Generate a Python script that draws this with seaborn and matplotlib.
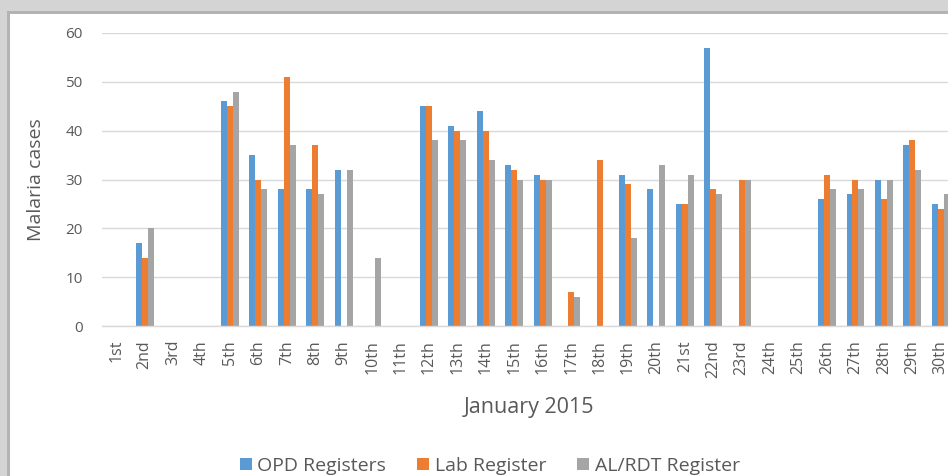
import numpy as np
import pandas as pd
import matplotlib.pyplot as plt
import seaborn as sns
from matplotlib.patches import Patch, Rectangle

nan = np.nan

days = ["1st", "2nd", "3rd", "4th", "5th", "6th", "7th", "8th", "9th", "10th",
        "11th", "12th", "13th", "14th", "15th", "16th", "17th", "18th", "19th", "20th",
        "21st", "22nd", "23rd", "24th", "25th", "26th", "27th", "28th", "29th", "30th"]

opd = [nan, 17, nan, nan, 46, 35, 28, 28, 32, nan,
       nan, 45, 41, 44, 33, 31, nan, nan, 31, 28,
       25, 57, nan, nan, nan, 26, 27, 30, 37, 25]
lab = [nan, 14, nan, nan, 45, 30, 51, 37, nan, nan,
       nan, 45, 40, 40, 32, 30, 7, 34, 29, nan,
       25, 28, 30, nan, nan, 31, 30, 26, 38, 24]
alrdt = [nan, 20, nan, nan, 48, 28, 37, 27, 32, 14,
         nan, 38, 38, 34, 30, 30, 6, nan, 18, 33,
         31, 27, 30, nan, nan, 28, 28, 30, 32, 27]

series_names = ["OPD Registers", "Lab Register", "AL/RDT Register"]
colors = ["#5B9BD5", "#ED7D31", "#A5A5A5"]

df = pd.DataFrame({"day": days, series_names[0]: opd,
                   series_names[1]: lab, series_names[2]: alrdt})
long_df = df.melt(id_vars="day", var_name="register", value_name="cases")

sns.set_style("white")
plt.rcParams["font.family"] = ["Open Sans", "DejaVu Sans"]
text_color = "#595959"

fig = plt.figure(figsize=(9.48, 4.76), dpi=100)
# axes runs past the right edge, like the cropped screenshot
ax = fig.add_axes([102 / 948, 1 - 326 / 476, 853 / 948, 293 / 476])

sns.barplot(data=long_df, x="day", y="cases", hue="register", order=days,
            hue_order=series_names, palette=colors, width=0.63, gap=0,
            linewidth=0, saturation=1, legend=False, ax=ax)

ax.set_xlim(-0.5, len(days) - 0.5)
ax.set_ylim(0, 60)
ax.set_yticks(range(0, 61, 10))
ax.yaxis.grid(True, color="#d9d9d9", linewidth=1)
ax.set_axisbelow(True)
for s in ["top", "right", "left"]:
    ax.spines[s].set_visible(False)
ax.spines["bottom"].set_color("#d9d9d9")
ax.spines["bottom"].set_linewidth(1)
ax.tick_params(axis="y", length=0, pad=14, labelsize=11, labelcolor=text_color)
ax.tick_params(axis="x", length=0, pad=10, labelsize=11.5, labelcolor=text_color,
               rotation=90)

ax.set_ylabel("")
ax.set_xlabel("")
fig.text(36 / 948, 1 - 180 / 476, "Malaria cases", ha="center", va="center",
         rotation=90, fontsize=14, color=text_color)
fig.text(529 / 948, 1 - 407 / 476, "January 2015", ha="center", va="center",
         fontsize=15.5, color=text_color)

handles = [Patch(facecolor=c, edgecolor="none", label=n)
           for c, n in zip(colors, series_names)]
fig.legend(handles=handles, loc="center", bbox_to_anchor=(490 / 948, 1 - 466 / 476),
           ncol=3, frameon=False, fontsize=14, labelcolor=text_color,
           handlelength=0.6, handleheight=0.6, handletextpad=0.3, columnspacing=1.6)

# grey frame / shadow from the screenshot
fig.patches.append(Rectangle((0, 0), 9 / 948, 1, transform=fig.transFigure,
                             facecolor="#d4d4d4", edgecolor="none"))
fig.patches.append(Rectangle((0, 1 - 12 / 476), 1, 12 / 476, transform=fig.transFigure,
                             facecolor="#d4d4d4", edgecolor="none"))
fig.patches.append(Rectangle((7 / 948, 0), 3 / 948, 1 - 11 / 476, transform=fig.transFigure,
                             facecolor="#b3b3b3", edgecolor="none"))
fig.patches.append(Rectangle((7 / 948, 1 - 14 / 476), 1, 3 / 476, transform=fig.transFigure,
                             facecolor="#b3b3b3", edgecolor="none"))

fig.savefig("out.png", dpi=100)
